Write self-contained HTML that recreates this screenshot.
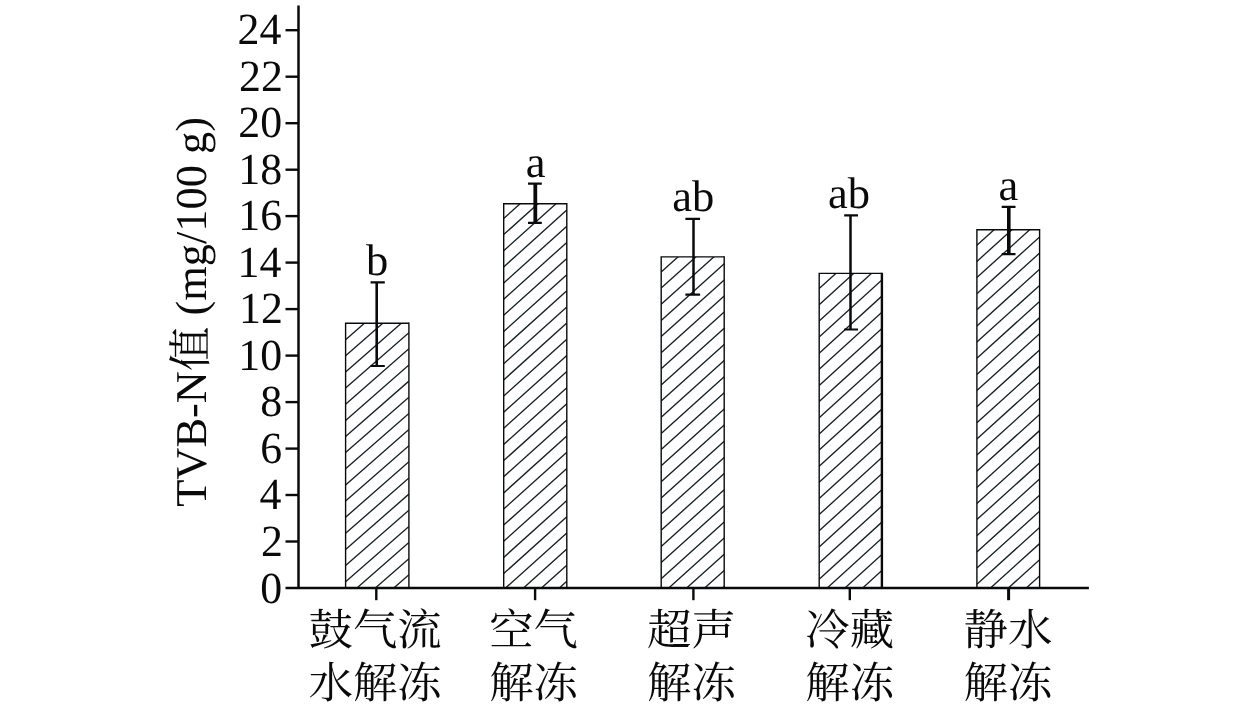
<!DOCTYPE html>
<html lang="zh"><head><meta charset="utf-8"><title>TVB-N</title>
<style>html,body{margin:0;padding:0;background:#fff}body{width:1260px;height:710px;overflow:hidden}svg{display:block;text-rendering:geometricPrecision}.n{font-family:"Liberation Serif","Noto Serif CJK SC",serif;fill:#0a0a0a}.c{font-family:"Liberation Serif","Noto Serif CJK SC",serif;fill:#0a0a0a}</style></head><body>
<svg width="1260" height="710" viewBox="0 0 1260 710">
<rect width="1260" height="710" fill="#fff"/>
<defs>
<clipPath id="cp0"><rect x="345.6" y="323.3" width="63.3" height="264.7"/></clipPath>
<clipPath id="cp1"><rect x="503.7" y="203.7" width="63.1" height="384.3"/></clipPath>
<clipPath id="cp2"><rect x="661.2" y="256.9" width="63.0" height="331.1"/></clipPath>
<clipPath id="cp3"><rect x="819.2" y="273.4" width="62.7" height="314.6"/></clipPath>
<clipPath id="cp4"><rect x="976.9" y="229.8" width="62.7" height="358.2"/></clipPath>
</defs>
<g clip-path="url(#cp0)" stroke="#162228" stroke-width="1.35" fill="none">
<path d="M345.6 323.5L408.9 268.1M345.6 339.7L408.9 284.3M345.6 355.8L408.9 300.4M345.6 371.9L408.9 316.6M345.6 388.1L408.9 332.7M345.6 404.2L408.9 348.8M345.6 420.4L408.9 365.0M345.6 436.5L408.9 381.1M345.6 452.6L408.9 397.3M345.6 468.8L408.9 413.4M345.6 484.9L408.9 429.5M345.6 501.1L408.9 445.7M345.6 517.2L408.9 461.8M345.6 533.3L408.9 478.0M345.6 549.5L408.9 494.1M345.6 565.6L408.9 510.2M345.6 581.8L408.9 526.4M345.6 597.9L408.9 542.5M345.6 614.0L408.9 558.7M345.6 630.2L408.9 574.8"/></g>
<path d="M345.6 588.0V323.3H408.9" stroke="#0a0a0a" stroke-width="1.4" fill="none"/>
<path d="M408.9 322.6V588.0" stroke="#0a0a0a" stroke-width="1.4" fill="none"/>
<g clip-path="url(#cp1)" stroke="#162228" stroke-width="1.35" fill="none">
<path d="M503.7 218.5L566.8 161.7M503.7 234.6L566.8 177.8M503.7 250.8L566.8 194.0M503.7 266.9L566.8 210.1M503.7 283.0L566.8 226.2M503.7 299.2L566.8 242.4M503.7 315.3L566.8 258.5M503.7 331.5L566.8 274.7M503.7 347.6L566.8 290.8M503.7 363.7L566.8 307.0M503.7 379.9L566.8 323.1M503.7 396.0L566.8 339.2M503.7 412.2L566.8 355.4M503.7 428.3L566.8 371.5M503.7 444.4L566.8 387.7M503.7 460.6L566.8 403.8M503.7 476.7L566.8 419.9M503.7 492.9L566.8 436.1M503.7 509.0L566.8 452.2M503.7 525.1L566.8 468.4M503.7 541.3L566.8 484.5M503.7 557.4L566.8 500.6M503.7 573.6L566.8 516.8M503.7 589.7L566.8 532.9M503.7 605.8L566.8 549.1M503.7 622.0L566.8 565.2M503.7 638.1L566.8 581.3"/></g>
<path d="M503.7 588.0V203.7H566.8" stroke="#0a0a0a" stroke-width="1.4" fill="none"/>
<path d="M566.8 203.0V588.0" stroke="#0a0a0a" stroke-width="1.4" fill="none"/>
<g clip-path="url(#cp2)" stroke="#162228" stroke-width="1.35" fill="none">
<path d="M661.2 272.0L724.2 215.3M661.2 288.1L724.2 231.4M661.2 304.3L724.2 247.6M661.2 320.4L724.2 263.7M661.2 336.6L724.2 279.9M661.2 352.7L724.2 296.0M661.2 368.8L724.2 312.1M661.2 385.0L724.2 328.3M661.2 401.1L724.2 344.4M661.2 417.3L724.2 360.6M661.2 433.4L724.2 376.7M661.2 449.5L724.2 392.8M661.2 465.7L724.2 409.0M661.2 481.8L724.2 425.1M661.2 498.0L724.2 441.3M661.2 514.1L724.2 457.4M661.2 530.2L724.2 473.5M661.2 546.4L724.2 489.7M661.2 562.5L724.2 505.8M661.2 578.7L724.2 522.0M661.2 594.8L724.2 538.1M661.2 610.9L724.2 554.2M661.2 627.1L724.2 570.4M661.2 643.2L724.2 586.5"/></g>
<path d="M661.2 588.0V256.9H724.2" stroke="#0a0a0a" stroke-width="1.4" fill="none"/>
<path d="M724.2 256.2V588.0" stroke="#0a0a0a" stroke-width="1.4" fill="none"/>
<g clip-path="url(#cp3)" stroke="#162228" stroke-width="1.35" fill="none">
<path d="M819.2 272.5L881.9 215.4M819.2 288.6L881.9 231.6M819.2 304.8L881.9 247.7M819.2 320.9L881.9 263.9M819.2 337.1L881.9 280.0M819.2 353.2L881.9 296.1M819.2 369.3L881.9 312.3M819.2 385.5L881.9 328.4M819.2 401.6L881.9 344.6M819.2 417.8L881.9 360.7M819.2 433.9L881.9 376.8M819.2 450.0L881.9 393.0M819.2 466.2L881.9 409.1M819.2 482.3L881.9 425.3M819.2 498.5L881.9 441.4M819.2 514.6L881.9 457.5M819.2 530.7L881.9 473.7M819.2 546.9L881.9 489.8M819.2 563.0L881.9 506.0M819.2 579.2L881.9 522.1M819.2 595.3L881.9 538.2M819.2 611.4L881.9 554.4M819.2 627.6L881.9 570.5M819.2 643.7L881.9 586.7"/></g>
<path d="M819.2 588.0V273.4H881.9" stroke="#0a0a0a" stroke-width="1.4" fill="none"/>
<path d="M881.9 272.7V588.0" stroke="#0a0a0a" stroke-width="2.4" fill="none"/>
<g clip-path="url(#cp4)" stroke="#162228" stroke-width="1.35" fill="none">
<path d="M976.9 229.1L1039.6 172.4M976.9 245.3L1039.6 188.5M976.9 261.4L1039.6 204.7M976.9 277.5L1039.6 220.8M976.9 293.7L1039.6 236.9M976.9 309.8L1039.6 253.1M976.9 326.0L1039.6 269.2M976.9 342.1L1039.6 285.4M976.9 358.2L1039.6 301.5M976.9 374.4L1039.6 317.6M976.9 390.5L1039.6 333.8M976.9 406.7L1039.6 349.9M976.9 422.8L1039.6 366.1M976.9 438.9L1039.6 382.2M976.9 455.1L1039.6 398.3M976.9 471.2L1039.6 414.5M976.9 487.4L1039.6 430.6M976.9 503.5L1039.6 446.8M976.9 519.6L1039.6 462.9M976.9 535.8L1039.6 479.0M976.9 551.9L1039.6 495.2M976.9 568.1L1039.6 511.3M976.9 584.2L1039.6 527.5M976.9 600.3L1039.6 543.6M976.9 616.5L1039.6 559.7M976.9 632.6L1039.6 575.9"/></g>
<path d="M976.9 588.0V229.8H1039.6" stroke="#0a0a0a" stroke-width="1.4" fill="none"/>
<path d="M1039.6 229.1V588.0" stroke="#0a0a0a" stroke-width="1.4" fill="none"/>
<path d="M376.7 282.4V366.0" stroke="#0a0a0a" stroke-width="2.6"/>
<path d="M370.6 282.4H384.8M370.6 366.0H384.8" stroke="#0a0a0a" stroke-width="2.2"/>
<path d="M535.3 183.7V222.8" stroke="#0a0a0a" stroke-width="3.8"/>
<path d="M528.0 183.7H541.8M528.0 222.8H541.8" stroke="#0a0a0a" stroke-width="2.2"/>
<path d="M693.5 218.9V294.7" stroke="#0a0a0a" stroke-width="2.5"/>
<path d="M685.4 218.9H700.1M685.4 294.7H700.1" stroke="#0a0a0a" stroke-width="2.2"/>
<path d="M850.5 215.4V329.5" stroke="#0a0a0a" stroke-width="2.5"/>
<path d="M844.2 215.4H858.0M844.2 329.5H858.0" stroke="#0a0a0a" stroke-width="2.2"/>
<path d="M1008.8 206.9V254.1" stroke="#0a0a0a" stroke-width="3.6"/>
<path d="M1001.7 206.9H1015.5M1001.7 254.1H1015.5" stroke="#0a0a0a" stroke-width="2.2"/>
<path d="M298.5 5.4V588.0" stroke="#0a0a0a" stroke-width="2.5" stroke-linecap="butt"/>
<path d="M285.5 588.0H1088.9" stroke="#0a0a0a" stroke-width="2.5"/>
<text class="n" transform="translate(282.2 602.7) scale(0.985 1)" font-size="44.5" text-anchor="end">0</text>
<path d="M285.5 541.5H298" stroke="#0a0a0a" stroke-width="2.4"/>
<text class="n" transform="translate(282.9 555.7) scale(0.985 1)" font-size="44.5" text-anchor="end">2</text>
<path d="M285.5 495.0H298" stroke="#0a0a0a" stroke-width="2.4"/>
<text class="n" transform="translate(281.4 509.2) scale(0.985 1)" font-size="44.5" text-anchor="end">4</text>
<path d="M285.5 448.6H298" stroke="#0a0a0a" stroke-width="2.4"/>
<text class="n" transform="translate(282.2 462.8) scale(0.985 1)" font-size="44.5" text-anchor="end">6</text>
<path d="M285.5 402.1H298" stroke="#0a0a0a" stroke-width="2.4"/>
<text class="n" transform="translate(282.2 416.3) scale(0.985 1)" font-size="44.5" text-anchor="end">8</text>
<path d="M285.5 355.6H298" stroke="#0a0a0a" stroke-width="2.4"/>
<text class="n" transform="translate(282.2 369.8) scale(0.985 1)" font-size="44.5" text-anchor="end">10</text>
<path d="M285.5 309.1H298" stroke="#0a0a0a" stroke-width="2.4"/>
<text class="n" transform="translate(282.9 323.3) scale(0.985 1)" font-size="44.5" text-anchor="end">12</text>
<path d="M285.5 262.6H298" stroke="#0a0a0a" stroke-width="2.4"/>
<text class="n" transform="translate(281.4 276.8) scale(0.985 1)" font-size="44.5" text-anchor="end">14</text>
<path d="M285.5 216.1H298" stroke="#0a0a0a" stroke-width="2.4"/>
<text class="n" transform="translate(282.2 230.3) scale(0.985 1)" font-size="44.5" text-anchor="end">16</text>
<path d="M285.5 169.7H298" stroke="#0a0a0a" stroke-width="2.4"/>
<text class="n" transform="translate(282.2 183.9) scale(0.985 1)" font-size="44.5" text-anchor="end">18</text>
<path d="M285.5 123.2H298" stroke="#0a0a0a" stroke-width="2.4"/>
<text class="n" transform="translate(282.2 137.4) scale(0.985 1)" font-size="44.5" text-anchor="end">20</text>
<path d="M285.5 76.7H298" stroke="#0a0a0a" stroke-width="2.4"/>
<text class="n" transform="translate(282.9 90.9) scale(0.985 1)" font-size="44.5" text-anchor="end">22</text>
<path d="M285.5 30.2H298" stroke="#0a0a0a" stroke-width="2.4"/>
<text class="n" transform="translate(281.4 44.4) scale(0.985 1)" font-size="44.5" text-anchor="end">24</text>
<path d="M376.3 588.0V600.2" stroke="#0a0a0a" stroke-width="2.4"/>
<path d="M535.1 588.0V600.2" stroke="#0a0a0a" stroke-width="2.4"/>
<path d="M693.4 588.0V600.2" stroke="#0a0a0a" stroke-width="2.4"/>
<path d="M849.8 588.0V600.2" stroke="#0a0a0a" stroke-width="2.4"/>
<path d="M1008.6 588.0V600.2" stroke="#0a0a0a" stroke-width="3.0"/>
<text class="c" transform="translate(375.1 644.8) scale(1.01 0.985)" font-size="44" text-anchor="middle">鼓气流</text>
<text class="c" transform="translate(375.1 698.3) scale(1.01 0.985)" font-size="44" text-anchor="middle">水解冻</text>
<text class="c" transform="translate(533.6 644.8) scale(1.01 0.985)" font-size="44" text-anchor="middle">空气</text>
<text class="c" transform="translate(533.6 698.3) scale(1.01 0.985)" font-size="44" text-anchor="middle">解冻</text>
<text class="c" transform="translate(691.4 644.8) scale(1.01 0.985)" font-size="44" text-anchor="middle">超声</text>
<text class="c" transform="translate(691.4 698.3) scale(1.01 0.985)" font-size="44" text-anchor="middle">解冻</text>
<text class="c" transform="translate(849.8 644.8) scale(1.01 0.985)" font-size="44" text-anchor="middle">冷藏</text>
<text class="c" transform="translate(849.8 698.3) scale(1.01 0.985)" font-size="44" text-anchor="middle">解冻</text>
<text class="c" transform="translate(1007.9 644.8) scale(1.01 0.985)" font-size="44" text-anchor="middle">静水</text>
<text class="c" transform="translate(1007.9 698.3) scale(1.01 0.985)" font-size="44" text-anchor="middle">解冻</text>
<text class="n" x="377.0" y="275.3" font-size="44.5" text-anchor="middle">b</text>
<text class="n" x="535.6" y="176.8" font-size="44.5" text-anchor="middle">a</text>
<text class="n" x="693.3" y="211.1" font-size="44.5" text-anchor="middle">ab</text>
<text class="n" x="849.0" y="208.0" font-size="44.5" text-anchor="middle">ab</text>
<text class="n" x="1008.5" y="199.6" font-size="44.5" text-anchor="middle">a</text>
<g transform="translate(206.0 506.8) rotate(-90)">
<text class="n" transform="scale(1.0095 1)" font-size="44">TVB-N</text>
<text class="c" transform="translate(135.7 0) scale(1.0095 1)" font-size="44">值</text>
<text class="n" transform="translate(180.1 0) scale(1.0095 1)" font-size="44" style="white-space:pre"> (mg/100 g)</text>
</g>
</svg></body></html>
